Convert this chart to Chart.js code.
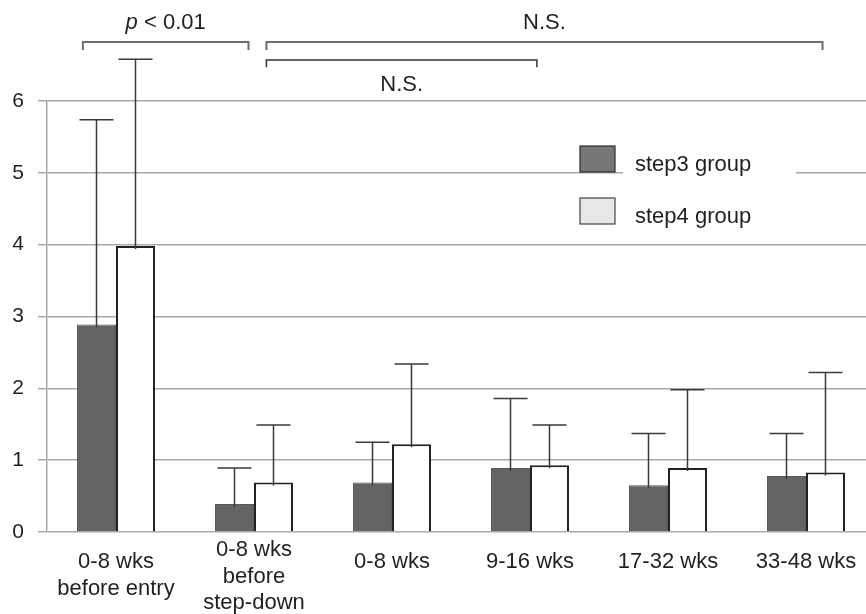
<!DOCTYPE html>
<html>
<head>
<meta charset="utf-8">
<script src="https://cdn.jsdelivr.net/npm/chart.js@4/dist/chart.umd.min.js"></script>
<style>
    html, body { margin: 0; padding: 0; background: #fff; overflow: hidden; }
    #wrap { width: 880px; height: 614px; }
</style>
</head>
<body>
<div id="wrap"><canvas id="chart" width="880" height="614"></canvas></div>
<script>
// ======================
// Data
// ======================
const categories = [
    ['0-8 wks', 'before entry'],
    ['0-8 wks', 'before', 'step-down'],
    ['0-8 wks'],
    ['9-16 wks'],
    ['17-32 wks'],
    ['33-48 wks']
];
const step3Means = [2.89, 0.39, 0.69, 0.89, 0.65, 0.78];
const step3Upper = [5.74, 0.89, 1.25, 1.86, 1.37, 1.37];
const step4Means = [3.98, 0.69, 1.22, 0.93, 0.89, 0.83];
const step4Upper = [6.58, 1.49, 2.34, 1.49, 1.98, 2.22];
const yTicks = [0, 1, 2, 3, 4, 5, 6];

const FONT = "'Liberation Sans', Arial, Helvetica, sans-serif";
const INK = '#231f20';
const GRID = '#a9a9a9';

// brackets above the bars, in category / value units
const comparisons = [
    { from: -0.24, to: 0.96, y: 6.82, tickTo: 6.71, text: 'p < 0.01', italicP: true, textY: 7.09, color: '#6d6d6d', width: 2 },
    { from: 1.09, to: 5.12, y: 6.82, tickTo: 6.71, text: 'N.S.', textY: 7.09, color: '#6d6d6d', width: 2 },
    { from: 1.09, to: 3.05, y: 6.57, tickTo: 6.47, text: 'N.S.', textY: 6.22, color: '#333', width: 1.5 }
];

// error bars (upper only)
const errorBarPlugin = {
    id: 'errorBars',
    afterDatasetsDraw(chart) {
        const ctx = chart.ctx;
        const yScale = chart.scales.y;
        const uppers = [step3Upper, step4Upper];
        ctx.save();
        ctx.strokeStyle = '#3a3a3a';
        ctx.lineWidth = 1.5;
        chart.data.datasets.forEach((ds, di) => {
            const meta = chart.getDatasetMeta(di);
            meta.data.forEach((bar, i) => {
                const top = yScale.getPixelForValue(uppers[di][i]);
                ctx.beginPath();
                ctx.moveTo(bar.x, bar.y + 3);
                ctx.lineTo(bar.x, top);
                ctx.moveTo(bar.x - 17, top);
                ctx.lineTo(bar.x + 17, top);
                ctx.stroke();
            });
        });
        ctx.restore();
    }
};

// x labels, brackets and legend
const decorPlugin = {
    id: 'decor',
    afterDraw(chart) {
        const ctx = chart.ctx;
        const x = chart.scales.x;
        const y = chart.scales.y;
        ctx.save();

        // category labels
        ctx.fillStyle = INK;
        ctx.font = '22px ' + FONT;
        ctx.textAlign = 'center';
        ctx.textBaseline = 'middle';
        categories.forEach((lines, i) => {
            const cx = x.getPixelForValue(i);
            const startY = lines.length === 3 ? 550 : 562;
            lines.forEach((line, k) => ctx.fillText(line, cx, startY + k * 26.5));
        });

        // significance brackets
        comparisons.forEach(c => {
            const x1 = x.getPixelForValue(c.from);
            const x2 = x.getPixelForValue(c.to);
            const by = y.getPixelForValue(c.y);
            const ty = y.getPixelForValue(c.tickTo);
            ctx.strokeStyle = c.color;
            ctx.lineWidth = c.width;
            ctx.beginPath();
            ctx.moveTo(x1, ty);
            ctx.lineTo(x1, by);
            ctx.lineTo(x2, by);
            ctx.lineTo(x2, ty);
            ctx.stroke();

            const cx = (x1 + x2) / 2;
            const cy = y.getPixelForValue(c.textY);
            ctx.fillStyle = INK;
            if (c.italicP) {
                const rest = c.text.slice(1);
                ctx.font = '22px ' + FONT;
                const wRest = ctx.measureText(rest).width;
                ctx.font = 'italic 22px ' + FONT;
                const wP = ctx.measureText('p').width;
                const left = cx - (wP + wRest) / 2;
                ctx.textAlign = 'left';
                ctx.fillText('p', left, cy);
                ctx.font = '22px ' + FONT;
                ctx.fillText(rest, left + wP, cy);
            } else {
                ctx.font = '22px ' + FONT;
                ctx.textAlign = 'center';
                ctx.fillText(c.text, cx, cy);
            }
        });

        // legend
        ctx.fillStyle = '#fff';
        ctx.fillRect(623, 140, 173, 95);
        const items = [
            { label: 'step3 group', fill: '#77777a', stroke: '#2c2c2c', y: 146 },
            { label: 'step4 group', fill: '#e6e7e8', stroke: '#444', y: 198 }
        ];
        items.forEach(it => {
            ctx.fillStyle = it.fill;
            ctx.strokeStyle = it.stroke;
            ctx.lineWidth = 1.2;
            ctx.fillRect(580, it.y, 35, 26);
            ctx.strokeRect(580, it.y, 35, 26);
            ctx.fillStyle = INK;
            ctx.font = '22px ' + FONT;
            ctx.textAlign = 'left';
            ctx.textBaseline = 'middle';
            ctx.fillText(it.label, 635, it.y + 19);
        });

        ctx.restore();
    }
};

new Chart(document.getElementById('chart').getContext('2d'), {
    type: 'bar',
    data: {
        labels: categories.map(l => l.join(' ')),
        datasets: [
            {
                label: 'step3 group',
                data: step3Means,
                backgroundColor: '#646466',
                borderColor: '#5a5a5c',
                borderWidth: 1,
                categoryPercentage: 0.565,
                barPercentage: 1.0
            },
            {
                label: 'step4 group',
                data: step4Means,
                backgroundColor: '#ffffff',
                borderColor: '#222',
                borderWidth: 2,
                categoryPercentage: 0.565,
                barPercentage: 1.0
            }
        ]
    },
    options: {
        responsive: false,
        animation: false,
        layout: { padding: { top: 101, right: 5, left: 0, bottom: 0 } },
        plugins: {
            legend: { display: false },
            tooltip: { enabled: false }
        },
        scales: {
            x: {
                offset: true,
                grid: { display: false },
                border: { display: false },
                ticks: { display: false },
                afterFit(scale) { scale.height = 82; }
            },
            y: {
                min: 0,
                max: 6,
                afterBuildTicks(scale) { scale.ticks = yTicks.map(v => ({ value: v })); },
                afterFit(scale) { scale.width = 47; },
                grid: { color: GRID, lineWidth: 1.5, tickLength: 9, drawTicks: true },
                border: { color: GRID, width: 1.5 },
                ticks: {
                    color: INK,
                    padding: 14,
                    font: { family: FONT, size: 21 }
                }
            }
        }
    },
    plugins: [errorBarPlugin, decorPlugin]
});
</script>
</body>
</html>
